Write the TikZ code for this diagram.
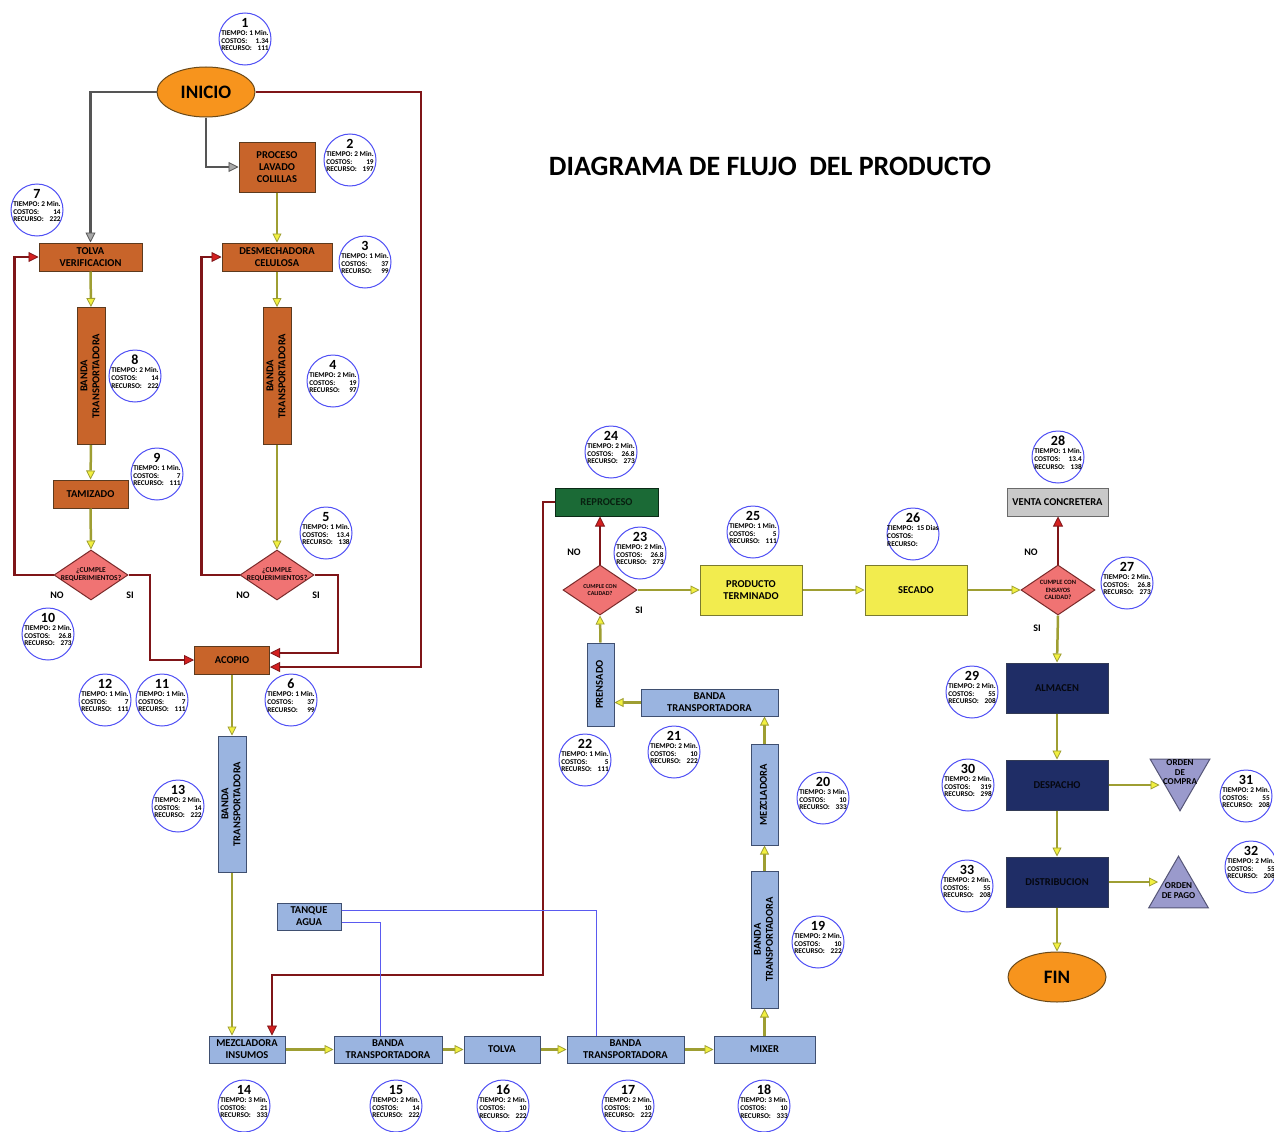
\documentclass[tikz,border=0pt]{standalone}
\usepackage{fontspec}
\setmainfont{Carlito}
\usetikzlibrary{shapes.geometric,arrows.meta,positioning}
\definecolor{cafe}{HTML}{C8642A}
\definecolor{cafeborde}{HTML}{5C3A1E}
\definecolor{naranja}{HTML}{F7941D}
\definecolor{naranjaborde}{HTML}{6B4A1A}
\definecolor{salmon}{HTML}{F07373}
\definecolor{salmonborde}{HTML}{7A2A2A}
\definecolor{celeste}{HTML}{9AB4E0}
\definecolor{celesteborde}{HTML}{3F4F70}
\definecolor{verde}{HTML}{1B6A36}
\definecolor{amarillo}{HTML}{F2EC4E}
\definecolor{amarilloborde}{HTML}{7A7A30}
\definecolor{grisc}{HTML}{C9C9C9}
\definecolor{griscborde}{HTML}{6A6A6A}
\definecolor{marino}{HTML}{1F2D66}
\definecolor{marinoborde}{HTML}{333B55}
\definecolor{lila}{HTML}{9A9ACC}
\definecolor{lilaborde}{HTML}{555577}
\definecolor{azulcirc}{HTML}{5050F5}
\definecolor{oliva}{HTML}{9E9E32}
\definecolor{puntaamarilla}{HTML}{F2F040}
\definecolor{vino}{HTML}{7F1518}
\definecolor{rojo}{HTML}{D42020}
\definecolor{grisosc}{HTML}{555555}
\definecolor{grisclaro}{HTML}{A8A8A8}
\definecolor{azulagua}{HTML}{5A5AF0}
\newlength{\anchoA}
\newlength{\anchoB}
\newcommand{\giro}[1]{\rotatebox{90}{\begin{tabular}{@{}c@{}}#1\end{tabular}}}
\newcommand{\burbuja}[6]{%
  \node[infocirc,label={[infotxt]center:{\settowidth{\anchoA}{TIEMPO: #4}\settowidth{\anchoB}{RECURSO:\ \ #6}\ifdim\anchoB>\anchoA\anchoA=\anchoB\fi
    \begin{tabular}{@{}c@{}}{\fontsize{14}{14}\selectfont #3}\\[1pt]
    \makebox[\anchoA][l]{TIEMPO: #4}\\
    \makebox[\anchoA]{COSTOS:\hfill #5}\\
    \makebox[\anchoA]{RECURSO:\hfill #6}\end{tabular}}}] (#1) at #2 {};}

\begin{document}
\begin{tikzpicture}[x=1pt,y=-1pt,
    caja/.style={draw,line width=1pt,align=center,inner sep=1pt,font=\fontsize{10.5}{12}\selectfont\bfseries},
    cafebox/.style={caja,draw=cafeborde,fill=cafe},
    azulbox/.style={caja,draw=celesteborde,fill=celeste},
    amarillobox/.style={caja,draw=amarilloborde,fill=amarillo,minimum width=102pt,minimum height=50pt},
    navybox/.style={caja,draw=marinoborde,fill=marino,text=black!85!marino,minimum width=102pt,minimum height=50pt},
    ovalo/.style={ellipse,draw=naranjaborde,fill=naranja,line width=1pt,minimum width=98pt,minimum height=50pt,font=\fontsize{19}{19}\selectfont\bfseries},
    decision/.style={diamond,draw=salmonborde,fill=salmon,line width=1pt,minimum width=74pt,minimum height=50pt,inner sep=0pt},
    dectxt/.style={align=center,font=\fontsize{6.5}{7.5}\selectfont\bfseries,text=black!80!salmonborde},
    ordenes/.style={regular polygon,regular polygon sides=3,draw=lilaborde,fill=lila,line width=1pt,minimum size=69pt,inner sep=0pt},
    infocirc/.style={circle,draw=azulcirc,fill=white,line width=1pt,minimum size=52pt,inner sep=0pt},
    infotxt/.style={font=\fontsize{7.3}{7.6}\selectfont\bfseries,inner sep=0pt,yshift=3.5pt},
    etiqueta/.style={font=\fontsize{10}{10}\selectfont\bfseries},
    flecha/.style={draw=oliva,line width=2.5pt,-{Triangle[length=9pt,width=9pt,fill=puntaamarilla,line width=0.8pt]}},
    retorno/.style={draw=vino,line width=2.8pt,-{Triangle[length=10pt,width=10pt,fill=rojo,line width=0.8pt]}},
    guia/.style={draw=grisosc,line width=2.8pt,-{Triangle[length=10pt,width=10pt,fill=grisclaro,line width=0.8pt]}},
    agua/.style={draw=azulagua,line width=0.8pt}
  ]
    \clip (0,0) rectangle (1274,1132);
    \fill[white] (0,0) rectangle (1274,1132);

    \node[font=\fontsize{28}{28}\selectfont\bfseries] (titulo) at (770,166) {DIAGRAMA DE FLUJO\ \ DEL PRODUCTO};

    \node[ovalo] (inicio) at (206,92) {INICIO};
    \node[cafebox,minimum width=76pt,minimum height=50pt] (lavado) at (277,167) {PROCESO\\LAVADO\\COLILLAS};
    \node[cafebox,minimum width=103pt,minimum height=28pt] (tolva) at (90.5,257) {TOLVA\\VERIFICACION};
    \node[cafebox,minimum width=110pt,minimum height=28pt] (desme) at (277,257) {DESMECHADORA\\CELULOSA};
    \node[cafebox,minimum width=28pt,minimum height=137pt] (banda8) at (91,376) {\giro{BANDA\\TRANSPORTADORA}};
    \node[cafebox,minimum width=28pt,minimum height=137pt] (banda4) at (277,376) {\giro{BANDA\\TRANSPORTADORA}};
    \node[cafebox,minimum width=75pt,minimum height=28pt] (tamizado) at (90.5,494) {TAMIZADO};
    \node[decision,label={[dectxt,font=\fontsize{7.5}{8}\selectfont\bfseries]center:{¿CUMPLE\\REQUERIMIENTOS?}}] (dec1) at (91,575) {};
    \node[decision,label={[dectxt,font=\fontsize{7.5}{8}\selectfont\bfseries]center:{¿CUMPLE\\REQUERIMIENTOS?}}] (dec2) at (277,575) {};
    \node[cafebox,minimum width=75pt,minimum height=28pt] (acopio) at (232,660) {ACOPIO};

    \node[etiqueta] (no1) at (57,595) {NO};
    \node[etiqueta] (si1) at (130,595) {SI};
    \node[etiqueta] (no2) at (243,595) {NO};
    \node[etiqueta] (si2) at (316,595) {SI};

    \node[azulbox,minimum width=28pt,minimum height=136pt] (banda13) at (232,804) {\giro{BANDA\\TRANSPORTADORA}};
    \node[azulbox,minimum width=64pt,minimum height=27pt] (tanque) at (309,916.5) {TANQUE\\AGUA};
    \node[azulbox,minimum width=76pt,minimum height=27pt] (mezcla) at (247,1049.5) {MEZCLADORA\\INSUMOS};
    \node[azulbox,minimum width=108pt,minimum height=27pt] (banda15) at (388,1049.5) {BANDA\\TRANSPORTADORA};
    \node[azulbox,minimum width=76pt,minimum height=27pt] (tolvab) at (502,1049.5) {TOLVA};
    \node[azulbox,minimum width=117pt,minimum height=27pt] (banda17) at (625.5,1049.5) {BANDA\\TRANSPORTADORA};
    \node[azulbox,minimum width=101pt,minimum height=27pt] (mixer) at (764.5,1049.5) {MIXER};
    \node[azulbox,minimum width=27pt,minimum height=137pt] (banda19) at (764.5,939.5) {\giro{BANDA\\TRANSPORTADORA}};
    \node[azulbox,minimum width=27pt,minimum height=101pt] (mezcladora) at (764.5,794.5) {\giro{MEZCLADORA}};
    \node[azulbox,minimum width=137pt,minimum height=27pt] (banda21) at (709.5,702.5) {BANDA\\TRANSPORTADORA};
    \node[azulbox,minimum width=27pt,minimum height=83pt] (prensado) at (600.5,684.5) {\giro{PRENSADO}};
    \node[decision,label={[dectxt,font=\fontsize{6}{7}\selectfont\bfseries]center:{CUMPLE CON\\CALIDAD?}}] (dec23) at (600,590) {};
    \node[caja,draw=black!60!verde,fill=verde,minimum width=103pt,minimum height=28pt,text=black!70!verde] (reproceso) at (606.5,502) {REPROCESO};
    \node[etiqueta] (no3) at (574,552) {NO};
    \node[etiqueta] (si3) at (639,610) {SI};

    \node[amarillobox] (producto) at (751,590) {PRODUCTO\\TERMINADO};
    \node[amarillobox] (secado) at (916,590) {SECADO};
    \node[decision,label={[dectxt]center:{CUMPLE CON\\ENSAYOS\\CALIDAD?}}] (dec27) at (1058,590) {};
    \node[caja,draw=griscborde,fill=grisc,minimum width=101pt,minimum height=28pt] (venta) at (1057.5,502) {VENTA CONCRETERA};
    \node[etiqueta] (no4) at (1031,552) {NO};
    \node[etiqueta] (si4) at (1037,628) {SI};
    \node[navybox] (almacen) at (1057,688) {ALMACEN};
    \node[navybox] (despacho) at (1057,785) {DESPACHO};
    \node[navybox] (distrib) at (1057,882) {DISTRIBUCION};
    \node[ovalo] (fin) at (1057,977) {FIN};
    \node[ordenes,shape border rotate=180,label={[caja,draw=none,font=\fontsize{9}{9.5}\selectfont\bfseries,yshift=4pt]center:{ORDEN\\DE\\COMPRA}}] (compra) at (1180,776.3) {};
    \node[ordenes,label={[caja,draw=none,font=\fontsize{9}{9.5}\selectfont\bfseries]center:{ORDEN\\DE PAGO}}] (pago) at (1178.5,890.7) {};

    \draw[guia] (inicio.west) -| (tolva.north);
    \draw[guia] (inicio.south) |- (lavado.west);
    \draw[retorno] (inicio.east) -| ([xshift=151pt,yshift=-7pt]acopio.east) -- ([yshift=-7pt]acopio.east);
    \draw[retorno] (dec2.east) -| ([xshift=68pt,yshift=7pt]acopio.east) -- ([yshift=7pt]acopio.east);
    \draw[retorno] (dec1.east) -| ([xshift=-44pt]acopio.west) -- (acopio.west);
    \draw[retorno] (dec1.west) -| ([xshift=-24pt]tolva.west) -- (tolva.west);
    \draw[retorno] (dec2.west) -| ([xshift=-20pt]desme.west) -- (desme.west);
    \coordinate (codo) at (543,975);
    \draw[retorno] (reproceso.west) -| (codo) -| ([xshift=25pt]mezcla.north);
    \draw[retorno] (dec23.north) -- (reproceso.south -| dec23.north);
    \draw[retorno] (dec27.north) -- (venta.south -| dec27.north);

    \draw[agua] ([yshift=6.5pt]tanque.east) -| ([xshift=-29.5pt]banda17.north);
    \draw[agua] ([yshift=-5.5pt]tanque.east) -| ([xshift=-8pt]banda15.north);

    \draw[flecha] (lavado.south) -- (desme.north);
    \draw[flecha] (tolva.south) -- (banda8.north);
    \draw[flecha] (banda8.south) -- (tamizado.north);
    \draw[flecha] (tamizado.south) -- (dec1.north);
    \draw[flecha] (desme.south) -- (banda4.north);
    \draw[flecha] (banda4.south) -- (dec2.north);
    \draw[flecha] (acopio.south) -- (banda13.north);
    \draw[flecha] (banda13.south) -- (banda13.south |- mezcla.north);
    \draw[flecha] (mezcla.east) -- (banda15.west);
    \draw[flecha] (banda15.east) -- (tolvab.west);
    \draw[flecha] (tolvab.east) -- (banda17.west);
    \draw[flecha] (banda17.east) -- (mixer.west);
    \draw[flecha] (mixer.north) -- (banda19.south);
    \draw[flecha] (banda19.north) -- (mezcladora.south);
    \draw[flecha] (mezcladora.north) -- (mezcladora.north |- banda21.south);
    \draw[flecha] (banda21.west) -- (banda21.west -| prensado.east);
    \draw[flecha] (prensado.north) -- (dec23.south);
    \draw[flecha] (dec23.east) -- (producto.west);
    \draw[flecha] (producto.east) -- (secado.west);
    \draw[flecha] (secado.east) -- (dec27.west);
    \draw[flecha] (dec27.south) -- (almacen.north);
    \draw[flecha] (almacen.south) -- (despacho.north);
    \draw[flecha] (despacho.south) -- (distrib.north);
    \draw[flecha] (distrib.south) -- (fin.north);
    \draw[flecha] (despacho.east) -- (despacho.east -| compra.west);
    \draw[flecha] (distrib.east) -- (distrib.east -| pago.west);

    \burbuja{c1}{(245,39)}{1}{1 Min.}{1.34}{111}
    \burbuja{c2}{(350,160)}{2}{2 Min.}{19}{197}
    \burbuja{c3}{(365,262)}{3}{1 Min.}{37}{99}
    \burbuja{c4}{(333,381)}{4}{2 Min.}{19}{97}
    \burbuja{c5}{(326,533)}{5}{1 Min.}{13.4}{138}
    \burbuja{c6}{(291,700)}{6}{1 Min.}{37}{99}
    \burbuja{c7}{(37,210)}{7}{2 Min.}{14}{222}
    \burbuja{c8}{(135,376)}{8}{2 Min.}{14}{222}
    \burbuja{c9}{(157,474)}{9}{1 Min.}{7}{111}
    \burbuja{c10}{(48,634)}{10}{2 Min.}{26.8}{273}
    \burbuja{c11}{(162,700)}{11}{1 Min.}{7}{111}
    \burbuja{c12}{(105,700)}{12}{1 Min.}{7}{111}
    \burbuja{c13}{(178,806)}{13}{2 Min.}{14}{222}
    \burbuja{c14}{(244,1106)}{14}{3 Min.}{21}{333}
    \burbuja{c15}{(396,1106)}{15}{2 Min.}{14}{222}
    \burbuja{c16}{(503,1106)}{16}{2 Min.}{10}{222}
    \burbuja{c17}{(628,1106)}{17}{2 Min.}{10}{222}
    \burbuja{c18}{(764,1106)}{18}{3 Min.}{10}{333}
    \burbuja{c19}{(818,942)}{19}{2 Min.}{10}{222}
    \burbuja{c20}{(823,798)}{20}{3 Min.}{10}{333}
    \burbuja{c21}{(674,752)}{21}{2 Min.}{10}{222}
    \burbuja{c22}{(585,760)}{22}{1 Min.}{5}{111}
    \burbuja{c23}{(640,553)}{23}{2 Min.}{26.8}{273}
    \burbuja{c24}{(611,452)}{24}{2 Min.}{26.8}{273}
    \burbuja{c25}{(753,532)}{25}{1 Min.}{5}{111}
    \burbuja{c26}{(913,534)}{26}{\ 15 Dias}{}{}
    \burbuja{c27}{(1127,583)}{27}{2 Min.}{26.8}{273}
    \burbuja{c28}{(1058,457)}{28}{1 Min.}{13.4}{138}
    \burbuja{c29}{(972,692)}{29}{2 Min.}{55}{208}
    \burbuja{c30}{(968,785)}{30}{2 Min.}{319}{298}
    \burbuja{c31}{(1246,796)}{31}{2 Min.}{55}{208}
    \burbuja{c32}{(1251,867)}{32}{2 Min.}{55}{208}
    \burbuja{c33}{(967,886)}{33}{2 Min.}{55}{208}
  \end{tikzpicture}
\end{document}
